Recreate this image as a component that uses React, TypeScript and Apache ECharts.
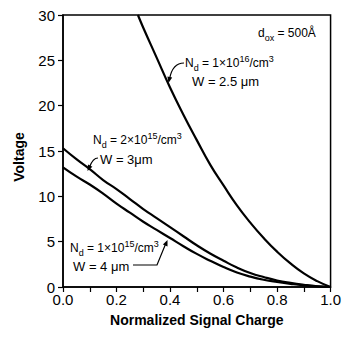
import React, { useEffect, useRef } from "react";
import * as echarts from "echarts";

// Normalized signal charge (x) and voltage (y)
const xA = [0.28, 0.30, 0.35, 0.40, 0.45, 0.50, 0.55, 0.60, 0.65, 0.70, 0.75, 0.80, 0.85, 0.90, 0.95, 1.0];
const vA = [30, 28.6, 25.3, 22.0, 19.0, 16.2, 13.5, 11.2, 9.0, 7.1, 5.4, 3.9, 2.6, 1.5, 0.65, 0];

const xBC = [0, 0.05, 0.10, 0.15, 0.20, 0.25, 0.30, 0.35, 0.40, 0.45, 0.50, 0.55, 0.60, 0.65, 0.70, 0.75, 0.80, 0.85, 0.90, 0.95, 1.0];
const vB = [15.3, 14.1, 13.0, 11.8, 10.8, 9.7, 8.6, 7.6, 6.6, 5.6, 4.6, 3.7, 2.9, 2.15, 1.55, 1.1, 0.72, 0.45, 0.24, 0.08, 0];
const vC = [13.2, 12.2, 11.3, 10.3, 9.2, 8.2, 7.2, 6.3, 5.4, 4.5, 3.65, 2.9, 2.2, 1.6, 1.15, 0.8, 0.55, 0.35, 0.18, 0.06, 0];

const xTicks = [0, 0.2, 0.4, 0.6, 0.8, 1.0];

const FONT = "'Liberation Sans', Arial, sans-serif";

const mkRich = (size: number) => ({
  n: { fontSize: size, fontFamily: FONT, fill: "#000", color: "#000", lineHeight: 18, verticalAlign: "middle" },
  sub: { fontSize: 9, fontFamily: FONT, fill: "#000", color: "#000", lineHeight: 18, verticalAlign: "bottom" },
  sup: { fontSize: 9, fontFamily: FONT, fill: "#000", color: "#000", lineHeight: 18, verticalAlign: "top" },
});

function label(x: number, y: number, text: string, size = 12) {
  return {
    type: "text",
    x,
    y,
    silent: true,
    style: { text, rich: mkRich(size), fill: "#000", align: "left", verticalAlign: "middle", font: `${size}px ${FONT}` },
  };
}

export default function App() {
  const ref = useRef<HTMLDivElement>(null);
  useEffect(() => {
    const chart = echarts.init(ref.current!, null, { renderer: "svg" });
    const line = (xs: number[], vs: number[]) => ({
      type: "line",
      data: xs.map((x, i) => [x, vs[i]]),
      showSymbol: false,
      smooth: true,
      lineStyle: { color: "#000", width: 2.2 },
      itemStyle: { color: "#000" },
    });
    chart.setOption({
      animation: false,
      backgroundColor: "#fff",
      grid: {
        left: 63,
        right: 11,
        top: 15,
        bottom: 52,
        show: true,
        borderColor: "#000",
        borderWidth: 1.5,
        backgroundColor: "transparent",
      },
      xAxis: {
        type: "value",
        min: 0,
        max: 1,
        interval: 0.1,
        name: "Normalized Signal Charge",
        nameLocation: "middle",
        nameGap: 26,
        nameTextStyle: { fontFamily: FONT, fontSize: 14, fontWeight: "bold", color: "#000" },
        axisLine: { show: true, lineStyle: { color: "#000", width: 1.5 } },
        axisTick: { show: true, inside: false, length: 5, lineStyle: { color: "#000", width: 1.2 } },
        splitLine: { show: false },
        axisLabel: {
          color: "#000",
          fontFamily: FONT,
          fontSize: 15,
          margin: 5,
          formatter: (v: number) => (xTicks.some((t) => Math.abs(t - v) < 1e-6) ? v.toFixed(1) : ""),
        },
      },
      yAxis: {
        type: "value",
        min: 0,
        max: 30,
        interval: 5,
        axisLine: { show: true, lineStyle: { color: "#000", width: 1.5 } },
        axisTick: { show: true, inside: false, length: 5, lineStyle: { color: "#000", width: 1.2 } },
        splitLine: { show: false },
        axisLabel: { color: "#000", fontFamily: FONT, fontSize: 15, margin: 8 },
      },
      series: [line(xA, vA), line(xBC, vB), line(xBC, vC)],
      graphic: [
        {
          type: "text",
          x: 19,
          y: 157,
          rotation: Math.PI / 2,
          silent: true,
          style: { text: "Voltage", fill: "#000", align: "center", verticalAlign: "middle", font: `bold 14px ${FONT}` },
        },
        label(258, 33, "{n|d}{sub|ox}{n| = 500Å}"),
        label(185, 63, "{n|N}{sub|d}{n| = 1×10}{sup|16}{n|/cm}{sup|3}"),
        label(192, 81, "{n|W = 2.5 μm}", 13),
        label(93, 140, "{n|N}{sub|d}{n| = 2×10}{sup|15}{n|/cm}{sup|3}"),
        label(100, 159, "{n|W = 3μm}", 13),
        label(70, 248, "{n|N}{sub|d}{n| = 1×10}{sup|15}{n|/cm}{sup|3}"),
        label(73, 266, "{n|W = 4 μm}", 13),
        {
          type: "bezierCurve",
          silent: true,
          shape: { x1: 184, y1: 63, cpx1: 175, cpy1: 63, cpx2: 171, cpy2: 71, x2: 169.5, y2: 79 },
          style: { stroke: "#000", lineWidth: 1.2, fill: null },
        },
        {
          type: "polygon",
          silent: true,
          shape: { points: [[168.5, 83], [172.2, 77.6], [167.4, 76.5]] },
          style: { fill: "#000" },
        },
        {
          type: "bezierCurve",
          silent: true,
          shape: { x1: 98, y1: 158, cpx1: 93, cpy1: 158, cpx2: 91, cpy2: 163, x2: 89.5, y2: 167 },
          style: { stroke: "#000", lineWidth: 1.2, fill: null },
        },
        {
          type: "polygon",
          silent: true,
          shape: { points: [[87.5, 171], [92.4, 166.8], [88, 164.5]] },
          style: { fill: "#000" },
        },
        {
          type: "polyline",
          silent: true,
          shape: { points: [[133, 265], [157, 265], [166, 243]] },
          style: { stroke: "#000", lineWidth: 1.2, fill: null },
        },
        {
          type: "polygon",
          silent: true,
          shape: { points: [[167.5, 240], [167.5, 246.5], [162.9, 244.5]] },
          style: { fill: "#000" },
        },
      ],
    });
    return () => chart.dispose();
  }, []);
  return <div ref={ref} style={{ width: 344, height: 339, position: "absolute", left: 0, top: 0 }} />;
}
